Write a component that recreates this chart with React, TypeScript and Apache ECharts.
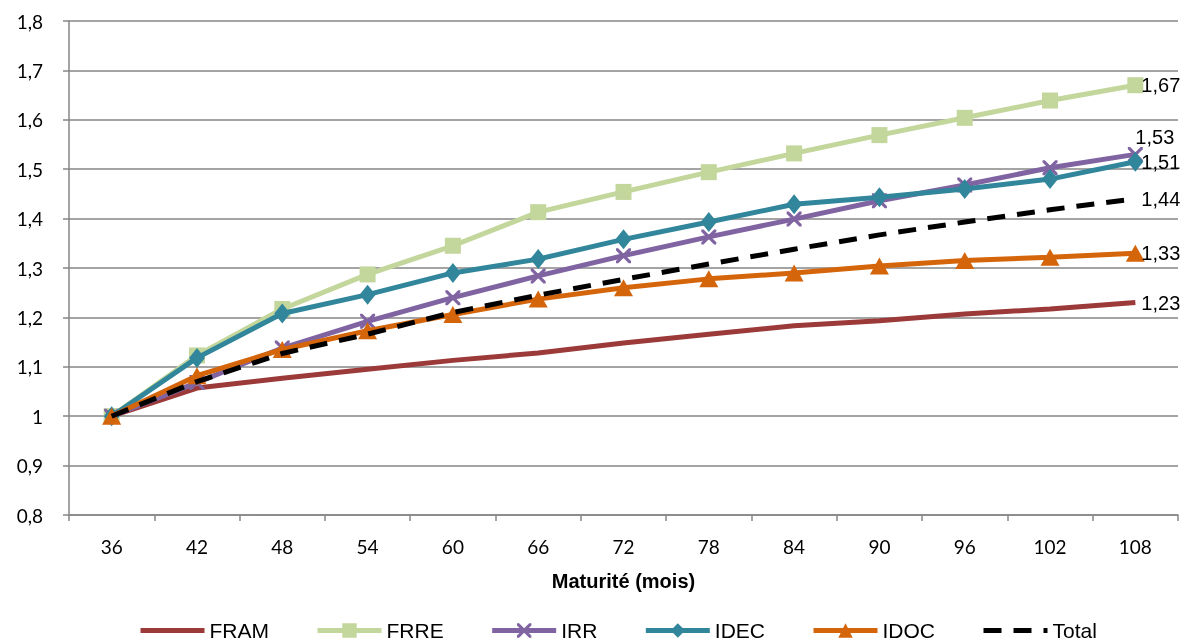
import React, { useEffect, useRef } from "react";
import * as echarts from "echarts";

const categories = ["36", "42", "48", "54", "60", "66", "72", "78", "84", "90", "96", "102", "108"];
const fram = [1.0, 1.057, 1.077, 1.095, 1.113, 1.128, 1.148, 1.166, 1.183, 1.193, 1.207, 1.217, 1.23];
const frre = [1.0, 1.123, 1.217, 1.287, 1.345, 1.413, 1.454, 1.494, 1.532, 1.569, 1.604, 1.639, 1.67];
const irr = [1.0, 1.068, 1.138, 1.192, 1.24, 1.284, 1.325, 1.363, 1.399, 1.436, 1.468, 1.503, 1.53];
const idec = [1.0, 1.118, 1.208, 1.246, 1.29, 1.318, 1.358, 1.393, 1.429, 1.443, 1.46, 1.48, 1.515];
const idoc = [1.0, 1.082, 1.135, 1.173, 1.206, 1.237, 1.26, 1.278, 1.29, 1.304, 1.315, 1.322, 1.33];
const total = [1.0, 1.07, 1.127, 1.166, 1.21, 1.245, 1.277, 1.308, 1.338, 1.367, 1.393, 1.418, 1.44];
const yTicks = { min: 0.8, max: 1.8, interval: 0.1 };

const crossPath =
  "path://M0,0 L3,0 L10,7 L17,0 L20,0 L20,3 L13,10 L20,17 L20,20 L17,20 L10,13 L3,20 L0,20 L0,17 L7,10 L0,3 Z";

const fmt = (v: number, d: number) => {
  const r = Number(v.toFixed(d));
  return String(d === 2 ? r.toFixed(2) : r).replace(".", ",");
};

const FONT = "Liberation Sans, Arial, sans-serif";

export default function App() {
  const ref = useRef<HTMLDivElement>(null);
  useEffect(() => {
    if (!ref.current) return;
    const chart = echarts.init(ref.current, undefined, { renderer: "svg" });
    const endLabel = (extra: any = {}) => ({
      show: true,
      fontFamily: FONT,
      fontSize: 20,
      color: "#000",
      distance: 6,
      formatter: (p: any) => fmt(p.value, 2),
      ...extra,
    });
    const mk = (name: string, data: number[], color: string, symbol: string, symbolSize: any, extra: any = {}) => ({
      name,
      type: "line",
      data,
      symbol,
      symbolSize,
      showSymbol: symbol !== "none",
      lineStyle: { color, width: 5, ...(extra.lineStyle || {}) },
      itemStyle: { color },
      endLabel: endLabel(extra.endLabel || {}),
      z: extra.z || 2,
    });
    chart.setOption({
      animation: false,
      grid: { left: 69, right: 11, top: 21, bottom: 128, containLabel: false },
      legend: {
        top: 615,
        left: 133,
        itemWidth: 64,
        itemHeight: 18,
        itemGap: 46,
        lineStyle: { width: 5 },
        textStyle: { fontFamily: FONT, fontSize: 21, color: "#000" },
        data: [
          { name: "FRAM", itemStyle: { opacity: 0 } },
          "FRRE",
          "IRR",
          "IDEC",
          "IDOC",
          { name: "Total", itemStyle: { opacity: 0 } },
        ],
      },
      xAxis: {
        type: "category",
        data: categories,
        boundaryGap: true,
        name: "Maturité (mois)",
        nameLocation: "middle",
        nameGap: 56,
        nameTextStyle: { fontFamily: FONT, fontSize: 20, fontWeight: "bold", color: "#000" },
        axisLine: { lineStyle: { color: "#868686", width: 1.5 } },
        axisTick: { show: true, length: 6, lineStyle: { color: "#868686", width: 1.5 } },
        axisLabel: { fontFamily: "Lato, sans-serif", fontSize: 19, color: "#000", margin: 22 },
        splitLine: { show: false },
      },
      yAxis: {
        type: "value",
        min: yTicks.min,
        max: yTicks.max,
        interval: yTicks.interval,
        axisLine: { show: true, lineStyle: { color: "#868686", width: 1.5 } },
        axisTick: { show: true, length: 6, lineStyle: { color: "#868686", width: 1.5 } },
        axisLabel: {
          fontFamily: "Lato, sans-serif",
          fontSize: 19,
          color: "#000",
          margin: 26,
          formatter: (v: number) => fmt(v, 1),
        },
        splitLine: { show: true, lineStyle: { color: "#868686", width: 1.5 } },
      },
      series: [
        mk("FRAM", fram, "#9B3A38", "none", 0, { z: 2 }),
        mk("FRRE", frre, "#C3D69B", "rect", 16, { z: 3 }),
        mk("IRR", irr, "#8064A2", crossPath, 15, { z: 4, endLabel: { offset: [-6, -17] } }),
        mk("IDEC", idec, "#31869B", "diamond", [16, 20], { z: 5 }),
        mk("IDOC", idoc, "#D5650A", "triangle", [19, 17], { z: 6 }),
        mk("Total", total, "#000000", "none", 0, { z: 7, lineStyle: { type: [18, 12] } }),
      ],
    });
    return () => chart.dispose();
  }, []);
  return <div ref={ref} style={{ position: "fixed", left: 0, top: 0, width: 1189, height: 643 }} />;
}
